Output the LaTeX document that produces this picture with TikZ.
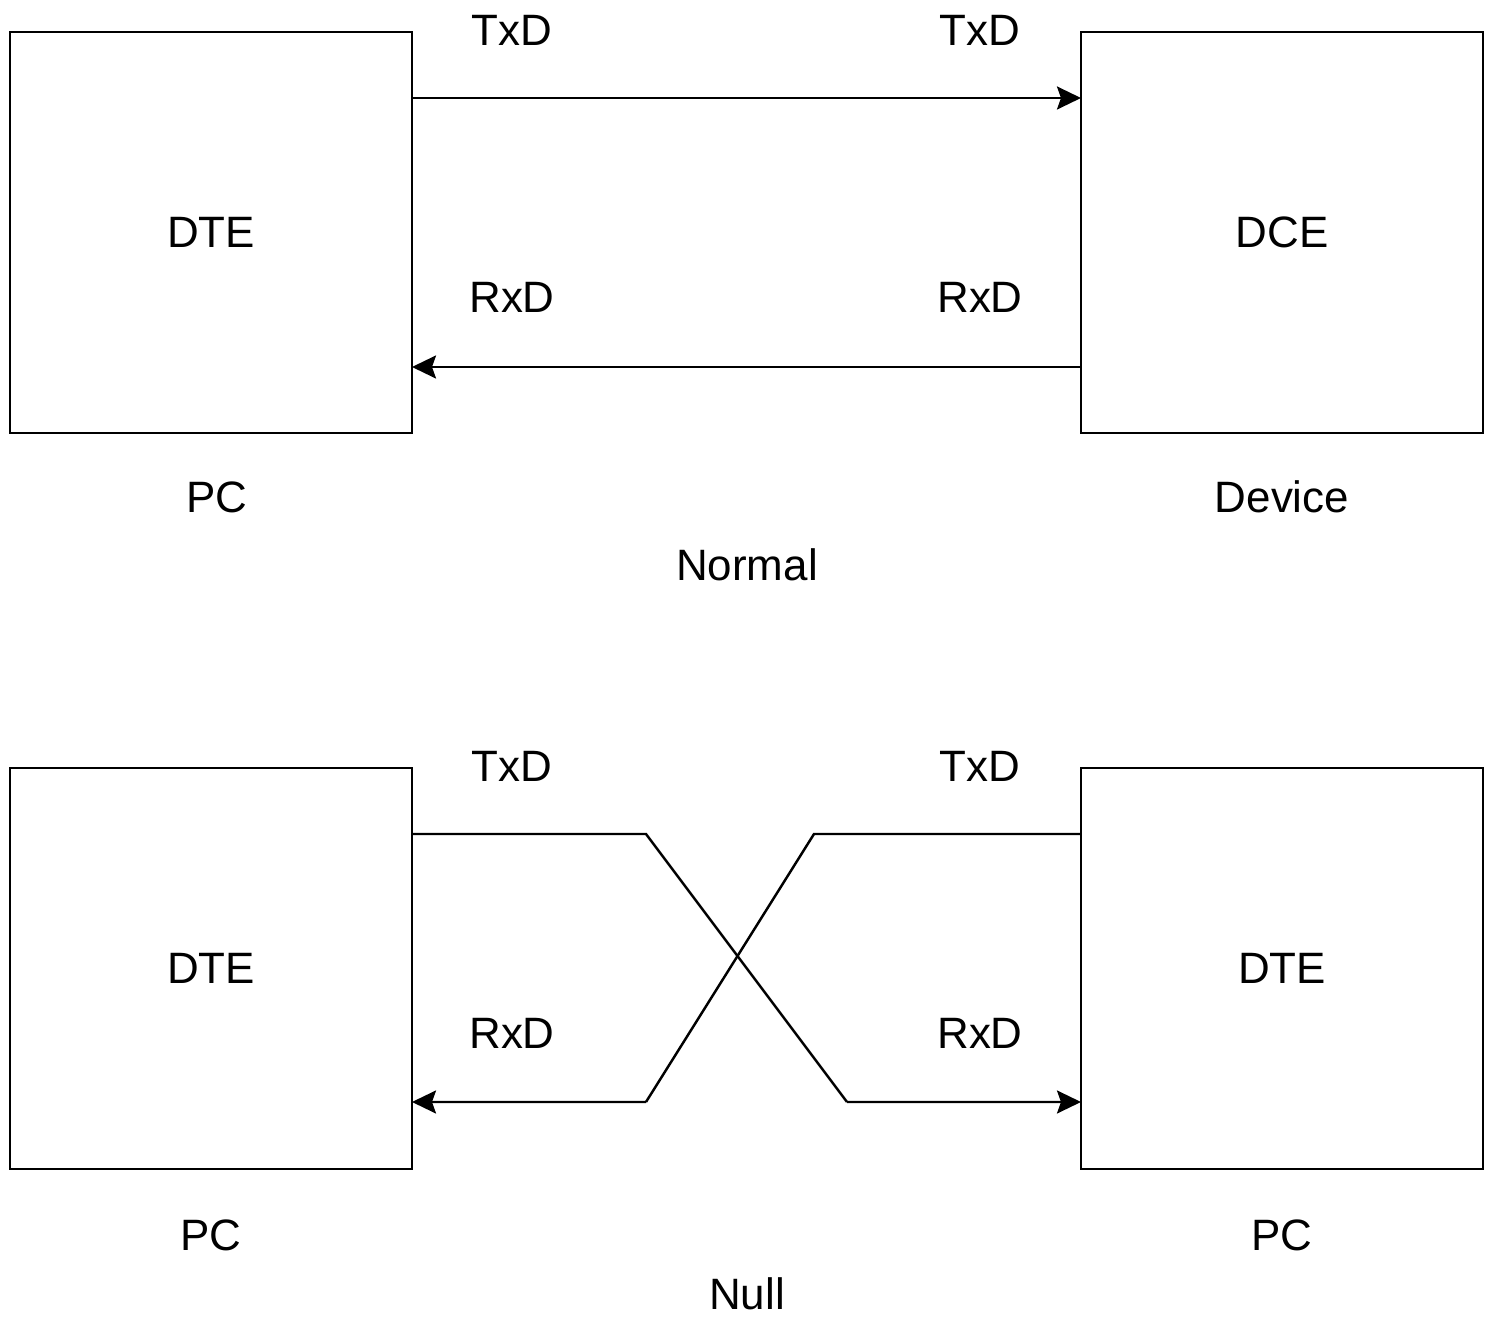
\documentclass[tikz,border=0pt]{standalone}
\usepackage{fontspec}
\setmainfont{Liberation Sans}
\usepackage{tikz}
\usetikzlibrary{arrows.meta,positioning}

\begin{document}
\begin{tikzpicture}[
    box/.style={rectangle,draw,line width=0.7pt,minimum width=4.02cm,
                minimum height=4.01cm,outer sep=0pt,font=\fontsize{12.5}{15}\selectfont},
    lbl/.style={font=\fontsize{12.5}{15}\selectfont,inner sep=0pt},
    arr/.style={-{Stealth[length=0.24cm,width=0.23cm,inset=0.04cm]},line width=0.7pt},
    wire/.style={line width=0.7pt},
  ]
  \useasboundingbox (0,0) rectangle (14.91,13.18);

  % Normal
  \node[box] (dte)  at (2.11,10.855)  {DTE};
  \node[box] (dce)  at (12.82,10.855) {DCE};
  \draw[arr] ([yshift=-6.6mm]dte.north east) -- ([yshift=-6.6mm]dce.north west);
  \draw[arr] ([yshift=6.6mm]dce.south west) -- ([yshift=6.6mm]dte.south east);

  \node[lbl] (txdA) at (5.12,12.88)  {TxD};
  \node[lbl] (txdB) at (9.80,12.88)  {TxD};
  \node[lbl] (rxdA) at (5.12,10.21)  {RxD};
  \node[lbl] (rxdB) at (9.80,10.21)  {RxD};
  \node[lbl] (pcA)  at (2.17,8.21)   {PC};
  \node[lbl] (dev)  at (12.82,8.21)  {Device};
  \node[lbl] (norm) at (7.47,7.53)   {Normal};

  % Null
  \node[box] (dteL) at (2.11,3.495)  {DTE};
  \node[box] (dteR) at (12.82,3.495) {DTE};
  \coordinate (xA) at (6.46,4.84);
  \coordinate (xB) at (8.47,2.16);
  \coordinate (xC) at (8.14,4.84);
  \coordinate (xD) at (6.46,2.16);
  \draw[wire] ([yshift=-6.6mm]dteL.north east) -- (xA) -- (xB);
  \draw[arr] (xB) -- ([yshift=6.7mm]dteR.south west);
  \draw[wire] ([yshift=-6.6mm]dteR.north west) -- (xC) -- (xD);
  \draw[arr] (xD) -- ([yshift=6.7mm]dteL.south east);

  \node[lbl] (txdC) at (5.12,5.52)   {TxD};
  \node[lbl] (txdD) at (9.80,5.52)   {TxD};
  \node[lbl] (rxdC) at (5.12,2.85)   {RxD};
  \node[lbl] (rxdD) at (9.80,2.85)   {RxD};
  \node[lbl] (pcB)  at (2.11,0.83)   {PC};
  \node[lbl] (pcC)  at (12.82,0.83)  {PC};
  \node[lbl] (null) at (7.47,0.24)   {Null};
\end{tikzpicture}
\end{document}
